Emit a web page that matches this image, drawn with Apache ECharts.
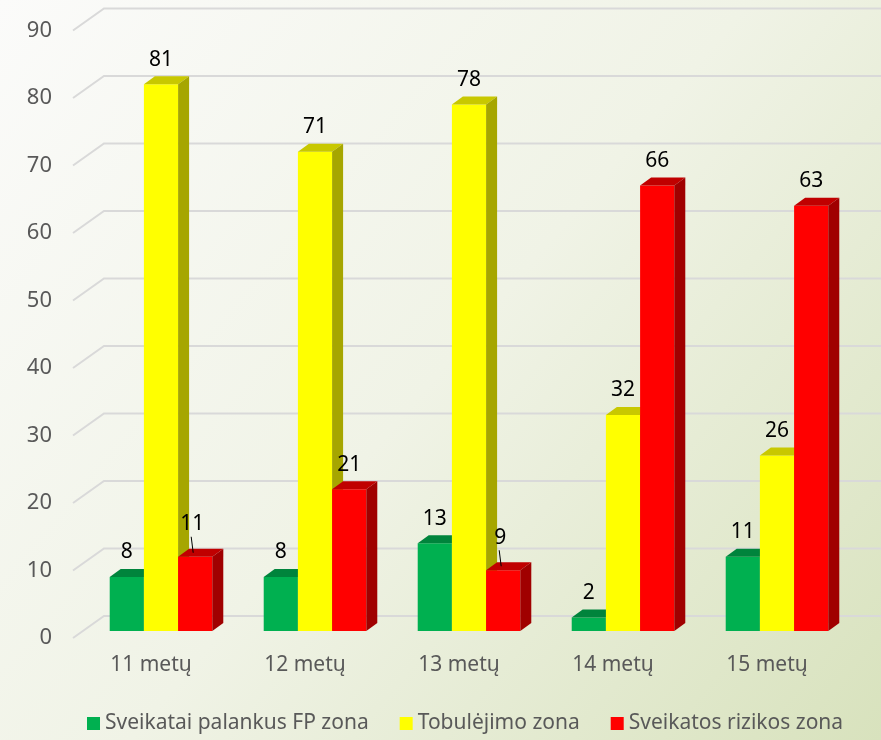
<!DOCTYPE html>
<html>
<head>
<meta charset="utf-8">
<script src="https://cdn.jsdelivr.net/npm/echarts@6/dist/echarts.min.js"></script>
<style>html,body{margin:0;padding:0;}#c{width:881px;height:740px;}</style>
</head>
<body>
<div id="c"></div>
<script>
const categories = ['11 metų', '12 metų', '13 metų', '14 metų', '15 metų'];
const seriesNames = ['Sveikatai palankus FP zona', 'Tobulėjimo zona', 'Sveikatos rizikos zona'];
const greenValues = [8, 8, 13, 2, 11];
const yellowValues = [81, 71, 78, 32, 26];
const redValues = [11, 21, 9, 66, 63];
const yTicks = [0, 10, 20, 30, 40, 50, 60, 70, 80, 90];

const FONT = 'Noto Sans';
const faces = [
  { front: '#00B050', top: '#00843C', side: '#006F32' },
  { front: '#FFFF00', top: '#C8C800', side: '#A6A600' },
  { front: '#FF0000', top: '#C00000', side: '#A00000' }
];
// labels pushed up with a leader line (series index -> category index -> lift px)
const lifted = { 2: { 0: 8, 2: 8 } };

const chart = echarts.init(document.getElementById('c'), null, { renderer: 'canvas' });

function barRender(sIdx) {
  return function (params, api) {
    const i = api.value(0), v = api.value(1);
    const base = api.coord([i, 0]);
    const topP = api.coord([i, v]);
    const band = api.size([1, 0])[0];
    const w = band * 0.222;
    const dx = 10, dy = -7;   // bar front face depth shift
    const ddx = 11, ddy = -8; // bar depth
    const x0 = base[0] - 1.5 * w + sIdx * w + dx;
    const yB = base[1] + dy, yT = topP[1] + dy;
    const f = faces[sIdx];
    const children = [
      { type: 'rect', shape: { x: x0, y: yT, width: w, height: yB - yT }, style: { fill: f.front } },
      { type: 'polygon', shape: { points: [[x0, yT], [x0 + w, yT], [x0 + w + ddx, yT + ddy], [x0 + ddx, yT + ddy]] }, style: { fill: f.top } },
      { type: 'polygon', shape: { points: [[x0 + w, yT], [x0 + w + ddx, yT + ddy], [x0 + w + ddx, yB + ddy], [x0 + w, yB]] }, style: { fill: f.side } }
    ];
    const lift = (lifted[sIdx] && lifted[sIdx][i]) || 0;
    const lx = x0 + w / 2 - (lift ? 3 : 0);
    const ly = yT + ddy - 6 - lift;
    children.push({ type: 'text', style: { text: String(v), x: lx, y: ly, align: 'center', verticalAlign: 'bottom', fill: '#000', font: '21px "' + FONT + '"' } });
    if (lift) {
      children.push({ type: 'line', shape: { x1: lx - 1, y1: ly + 2, x2: lx + 1, y2: yT + ddy / 2 }, style: { stroke: '#000', lineWidth: 1 } });
    }
    return { type: 'group', children: children };
  };
}

const valueSets = [greenValues, yellowValues, redValues];

const option = {
  backgroundColor: {
    type: 'linear', x: 0, y: 0, x2: 1, y2: 1,
    colorStops: [
      { offset: 0, color: '#FBFBFA' },
      { offset: 0.5, color: '#F0F3E6' },
      { offset: 1, color: '#D8E2BD' }
    ]
  },
  textStyle: { fontFamily: FONT },
  grid: { left: 74, right: 37, top: 30.5, bottom: 102 },
  xAxis: {
    type: 'category', data: categories,
    axisLine: { show: false }, axisTick: { show: false },
    axisLabel: { fontSize: 21, color: '#595959', margin: 17, fontFamily: FONT }
  },
  yAxis: {
    type: 'value', min: 0, max: 90, interval: 10,
    axisLine: { show: false }, axisTick: { show: false }, splitLine: { show: false },
    axisLabel: { fontSize: 22, color: '#595959', margin: 22, fontFamily: FONT }
  },
  legend: {
    data: seriesNames,
    left: 82, top: 708,
    itemWidth: 13, itemHeight: 13, itemGap: 31, icon: 'rect',
    textStyle: { fontSize: 21, color: '#595959', fontFamily: FONT }
  },
  series: [
    {
      type: 'custom', name: 'grid', silent: true, z: 1,
      data: yTicks.map(t => [0, t]),
      encode: { x: 0, y: 1 },
      renderItem: function (params, api) {
        const y = api.coord([0, api.value(1)])[1];
        const cs = params.coordSys;
        return {
          type: 'polyline',
          shape: { points: [[cs.x - 1, y], [cs.x + 30, y - 22], [cs.x + cs.width + 40, y - 22]] },
          style: { stroke: '#D9D9D9', lineWidth: 2, fill: null }
        };
      }
    }
  ].concat(seriesNames.map((name, s) => ({
    type: 'custom', name: name, z: 2,
    itemStyle: { color: faces[s].front },
    data: valueSets[s].map((v, i) => [i, v]),
    encode: { x: 0, y: 1 },
    renderItem: barRender(s)
  })))
};
chart.setOption(option);
</script>
</body>
</html>
